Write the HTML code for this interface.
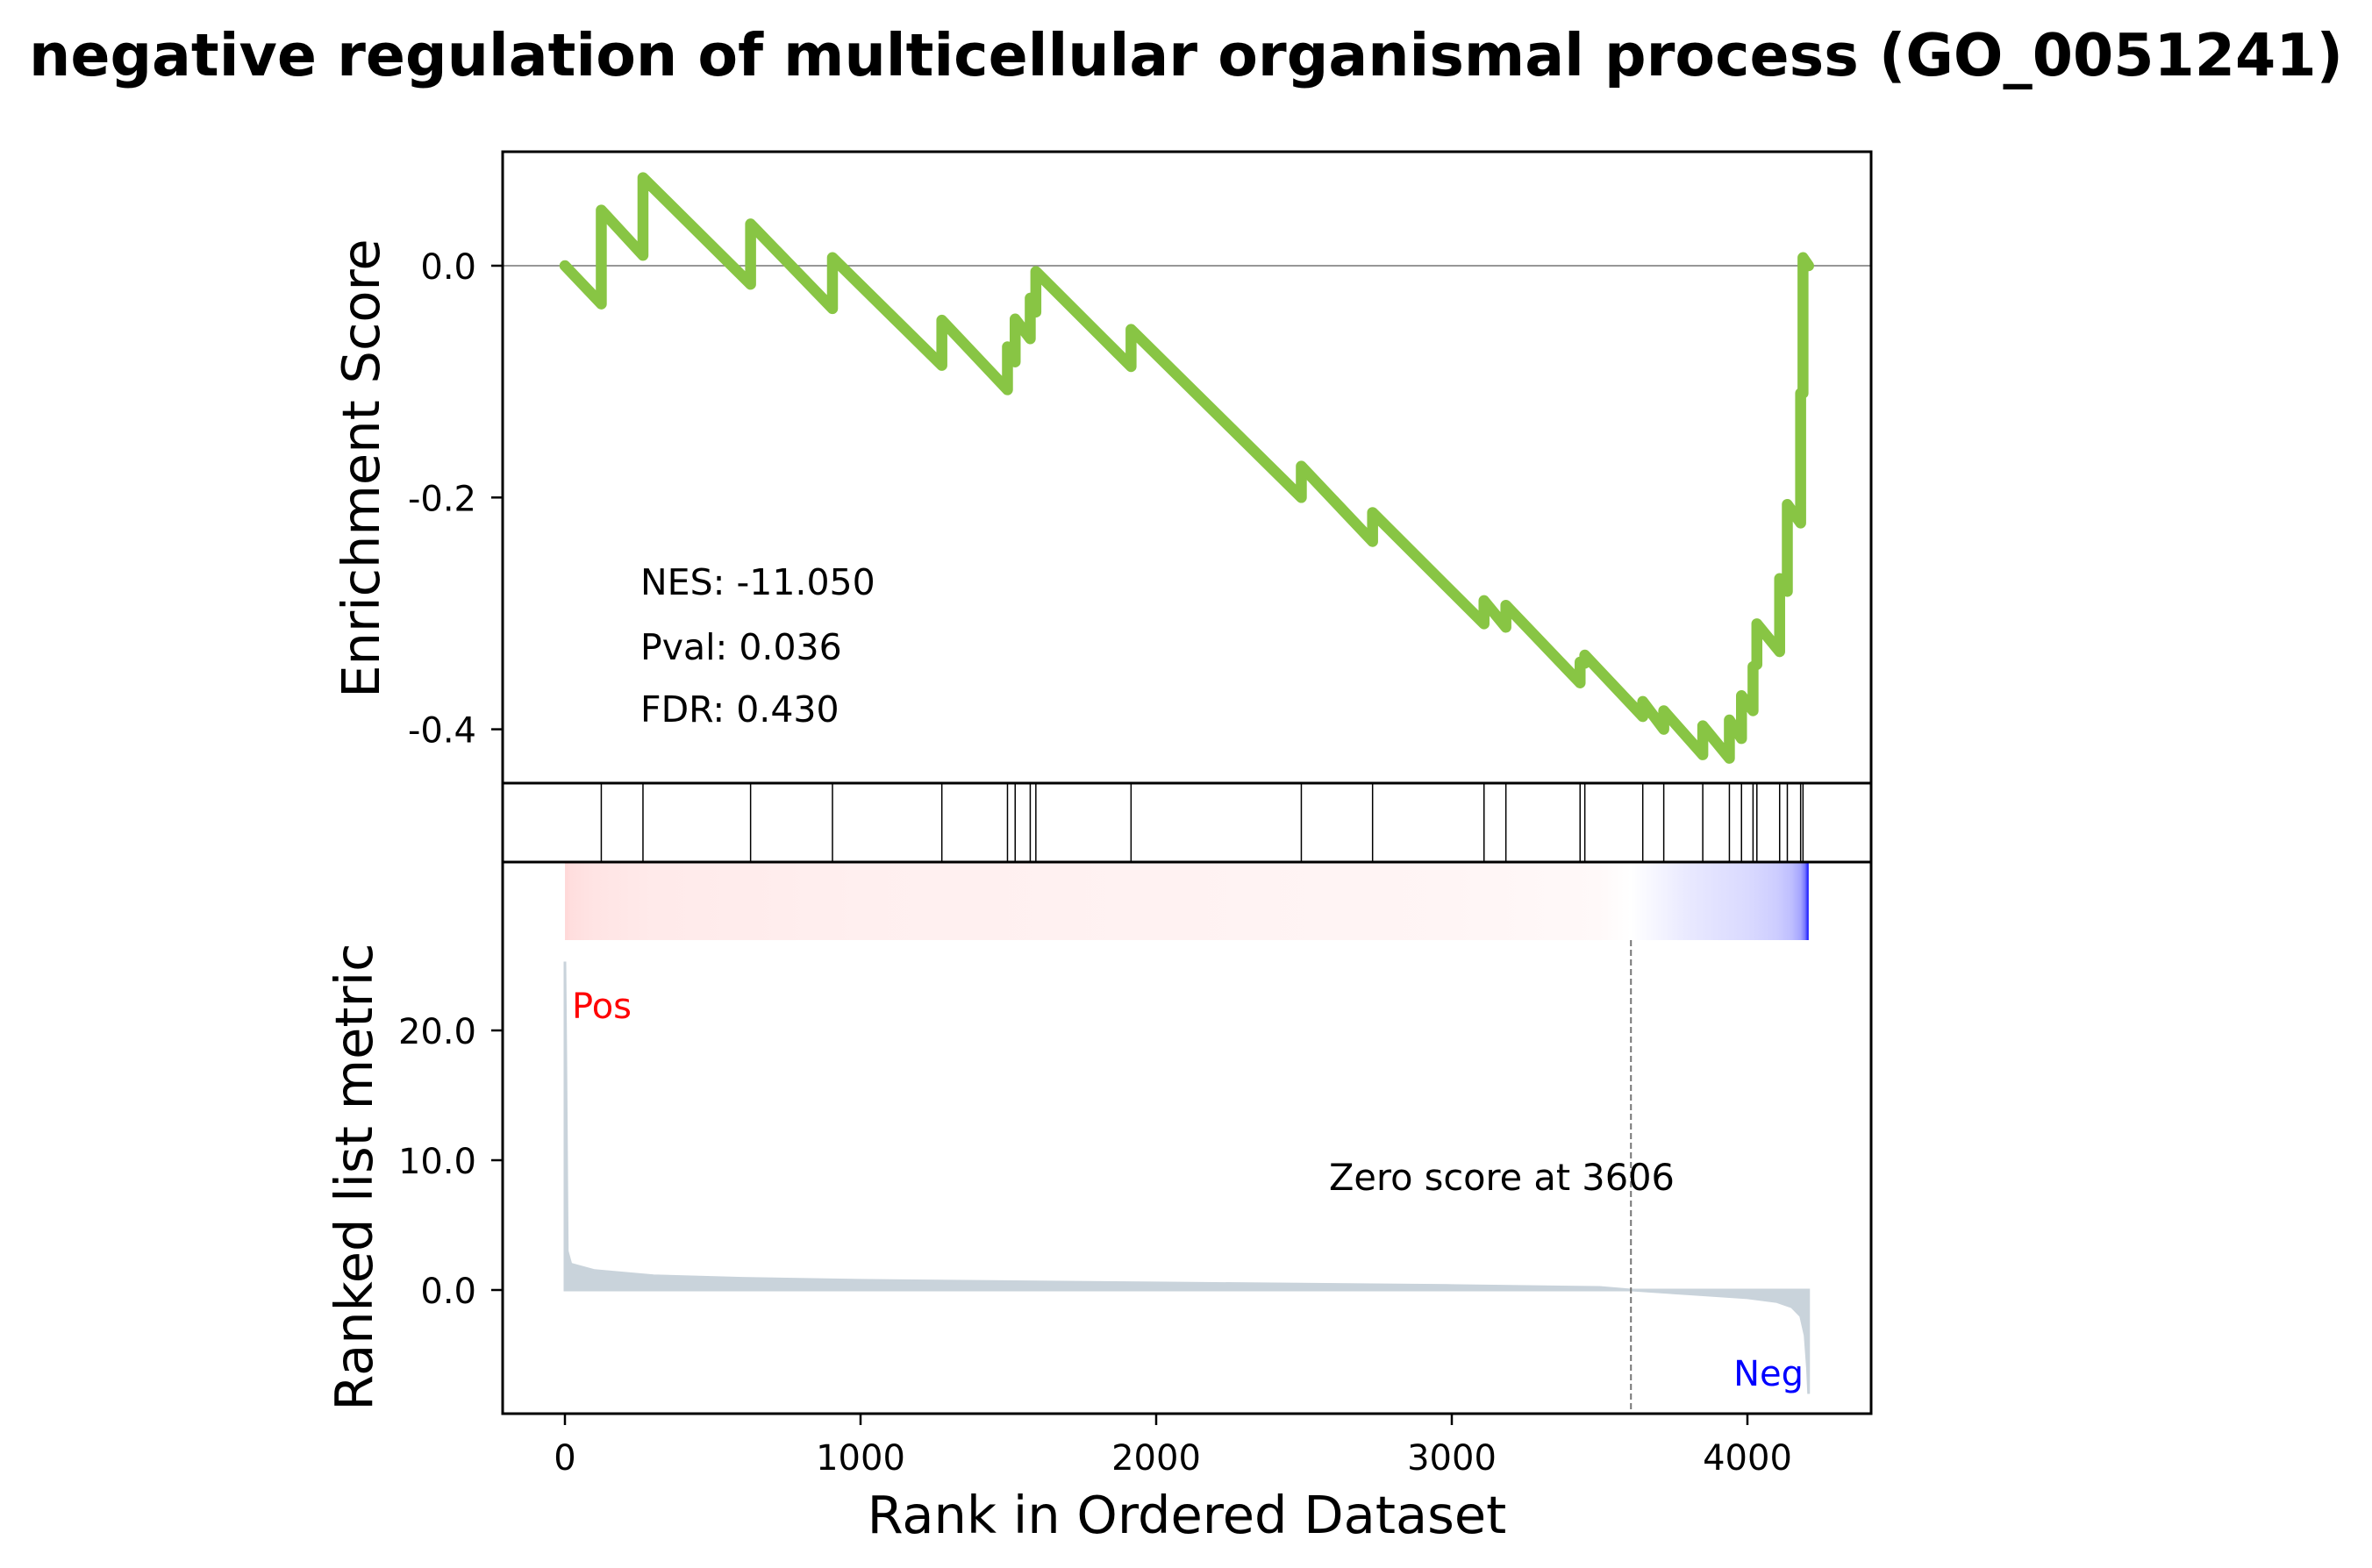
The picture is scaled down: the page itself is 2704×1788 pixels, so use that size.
<!DOCTYPE html>
<html><head><meta charset="utf-8"><style>
body{margin:0;background:#fff}
svg{display:block;font-family:"DejaVu Sans","Liberation Sans",sans-serif}
</style></head><body>
<svg id="c" width="2704" height="1788" viewBox="0 0 2704 1788">
<text x="1352" y="86" font-size="66.5" font-weight="bold" text-anchor="middle">negative regulation of multicellular organismal process (GO_0051241)</text>
<g id="g"></g>
</svg>
<script>
const hitRanks=[123,264,628,905,1275,1497,1523,1574,1593,1915,2491,2732,3109,3183,3434,3450,3646,3717,3849,3939,3980,4019,4032,4109,4135,4180,4188];
const esBefore=[-0.033,0.009,-0.016,-0.037,-0.086,-0.107,-0.083,-0.063,-0.040,-0.087,-0.200,-0.238,-0.309,-0.312,-0.360,-0.343,-0.389,-0.400,-0.422,-0.425,-0.408,-0.384,-0.344,-0.333,-0.281,-0.222,-0.110];
const esAfter=[0.048,0.076,0.036,0.007,-0.047,-0.070,-0.046,-0.028,-0.005,-0.055,-0.173,-0.213,-0.289,-0.293,-0.342,-0.336,-0.376,-0.384,-0.397,-0.392,-0.371,-0.346,-0.309,-0.270,-0.206,-0.110,0.007];
const totalN=4207;
const metricRanks=[0,3,8,20,100,300,600,1000,2000,3000,3500,3606,3800,4000,4100,4150,4180,4195,4203,4207];
const metricVals=[25.3,18,3,2.0,1.5,1.1,0.9,0.75,0.55,0.35,0.2,0,-0.3,-0.6,-0.9,-1.3,-2,-3.5,-6,-8];
const xTicks=[0,1000,2000,3000,4000];
const esTicks=[0.0,-0.2,-0.4];
const metTicks=[0,10,20];
const zeroRank=3606;
const stats=["NES: -11.050","Pval: 0.036","FDR: 0.430"];

const NS='http://www.w3.org/2000/svg', G=document.getElementById('g');
function mk(t,a,txt){const e=document.createElementNS(NS,t);for(const k in a)e.setAttribute(k,a[k]);if(txt!=null)e.textContent=txt;G.appendChild(e);return e;}
const L=573,R=2133;
const x=r=>644+(r)*0.337;
const yEs=v=>303-v*1321.5;
const yM=v=>1471-v*14.8;
const defs=mk('defs',{});
const lg=document.createElementNS(NS,'linearGradient');lg.setAttribute('id','hb');defs.appendChild(lg);
const x0=x(0),x1=x(totalN);
metricRanks.forEach((r,i)=>{const v=metricVals[i];const s=document.createElementNS(NS,'stop');
 s.setAttribute('offset',(r/totalN));
 let c;if(v>=0){const t=Math.min(1,Math.pow(v/2.5,0.7));const g=Math.round(255-t*38);c=`rgb(255,${g},${g})`;}else{const t=Math.min(1,Math.pow(-v/8,0.75));const g=Math.round(255-t*255);c=`rgb(${g},${g},255)`;}
 s.setAttribute('stop-color',c);lg.appendChild(s);});
let e=mk('rect',{x:x0,y:983,width:x1-x0,height:89,fill:'url(#hb)'});


let d=`M${x(0)},${yM(0)}`;metricRanks.forEach((r,i)=>{d+=`L${x(r)},${yM(metricVals[i])}`;});d+=`L${x(totalN)},${yM(0)}Z`;
e=mk('path',{d:d,fill:'#c9d3db',stroke:'#c9d3db','stroke-width':3});


e=mk('line',{x1:x(zeroRank),x2:x(zeroRank),y1:1072,y2:1612,stroke:'#777','stroke-width':2,'stroke-dasharray':'7,4'});


e=mk('text',{x:1515,y:1357,'font-size':41.5},'Zero score at '+zeroRank);


e=mk('text',{x:652,y:1161,'font-size':40,fill:'red'},'Pos');


e=mk('text',{x:2056,y:1580,'font-size':40,fill:'blue','text-anchor':'end'},'Neg');


e=mk('line',{x1:L,x2:R,y1:yEs(0),y2:yEs(0),stroke:'#888','stroke-width':1.7});


let pts=[[x(0),yEs(0)]];hitRanks.forEach((r,i)=>{pts.push([x(r),yEs(esBefore[i])]);pts.push([x(r),yEs(esAfter[i])]);});pts.push([x(totalN),yEs(0)]);
e=mk('polyline',{points:pts.map(p=>p.join(',')).join(' '),fill:'none',stroke:'#88c544','stroke-width':12.5,'stroke-linejoin':'round','stroke-linecap':'round'});


hitRanks.forEach(r=>{const h=mk('line',{x1:x(r),x2:x(r),y1:893,y2:983,stroke:'#000','stroke-width':1.5});

});
[[173,893],[893,983],[983,1612]].forEach((f,i)=>{const r=mk('rect',{x:L,y:f[0],width:R-L,height:f[1]-f[0],fill:'none',stroke:'#000','stroke-width':3});

});
esTicks.forEach(v=>{mk('line',{x1:L-13,x2:L,y1:yEs(v),y2:yEs(v),stroke:'#000','stroke-width':2.5});
const t=mk('text',{x:L-30,y:yEs(v)+15,'font-size':40,'text-anchor':'end'},v.toFixed(1));

});
metTicks.forEach(v=>{mk('line',{x1:L-13,x2:L,y1:yM(v),y2:yM(v),stroke:'#000','stroke-width':2.5});
const t=mk('text',{x:L-30,y:yM(v)+15,'font-size':40,'text-anchor':'end'},v.toFixed(1));

});
xTicks.forEach(v=>{mk('line',{x1:x(v),x2:x(v),y1:1612,y2:1625,stroke:'#000','stroke-width':2.5});
const t=mk('text',{x:x(v),y:1676,'font-size':40,'text-anchor':'middle'},String(v));

});
stats.forEach((s,i)=>{const t=mk('text',{x:730,y:[678,752,823][i],'font-size':41},s);

});
e=mk('text',{x:1353,y:1748,'font-size':59,'text-anchor':'middle'},'Rank in Ordered Dataset');


e=mk('text',{x:0,y:0,'font-size':59,'text-anchor':'middle',transform:'translate(432,534) rotate(-90)'},'Enrichment Score');


e=mk('text',{x:0,y:0,'font-size':59,'text-anchor':'middle',transform:'translate(424,1342) rotate(-90)'},'Ranked list metric');


</script>
</body></html>
